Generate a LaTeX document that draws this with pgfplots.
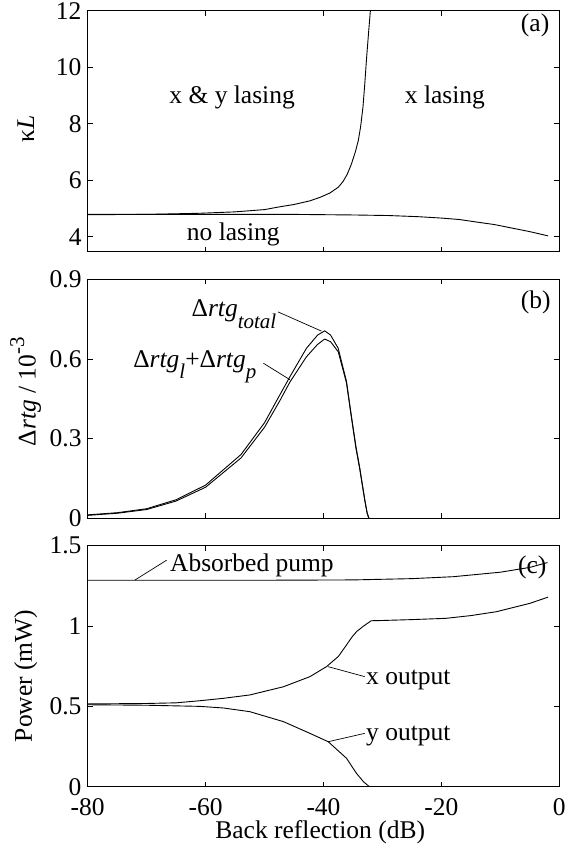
\documentclass[border=0pt]{standalone}
\usepackage{pgfplots}
\pgfplotsset{compat=1.18}
\usepackage{fontspec}
\setmainfont{Liberation Serif}
\newcommand{\subfont}{\fontsize{21}{24}\selectfont}
\begin{document}
\fontsize{25.5}{30}\selectfont
\begin{tikzpicture}[x=1pt,y=1pt]
\pgfplotsset{
  every axis/.append style={
    scale only axis, width=471.6pt, xmin=-80, xmax=0,
    xtick={-80,-60,-40,-20,0},
    major tick length=5pt, tick align=inside,
    axis line style={line width=1.1pt},
    every tick/.style={black, line width=0.8pt},
    /pgf/number format/assume math mode=true,
    yticklabel style={inner sep=0pt, xshift=-6pt},
    xticklabel style={inner sep=0pt, yshift=-12pt},
  },
  crv/.style={black, line width=0.9pt, mark=none},
  ann/.style={black, line width=0.7pt, mark=none},
}
% ---------------- (a)
\begin{axis}[at={(87.7pt,595.3pt)}, anchor=south west, height=241pt,
  ymin=3.47, ymax=12, ytick={4,6,8,10,12}, xticklabels={},
  ylabel={κ\textit{L}},
  every axis y label/.style={at={(axis description cs:-0.1315,0.509)}, rotate=90, anchor=center}]
\addplot[crv] coordinates {(-80,4.78) (-70,4.79) (-61,4.83) (-55,4.88) (-50,4.96) (-47.4,5.06) (-45,5.14) (-42.3,5.27) (-40.5,5.4) (-38.9,5.55) (-37.5,5.75) (-36.7,5.95) (-36,6.2) (-35.3,6.55) (-34.6,7.0) (-34.1,7.4) (-33.7,7.9) (-33.3,8.6) (-33.0,9.4) (-32.7,10.3) (-32.4,11.1) (-32.05,12)};
\addplot[crv] coordinates {(-80,4.79) (-60,4.79) (-45,4.79) (-35,4.77) (-29,4.75) (-24,4.71) (-20,4.66) (-17,4.61) (-14.7,4.54) (-11,4.43) (-7.9,4.3) (-5,4.18) (-1.9,4.03)};
\node[anchor=base] at (axis cs:-55.5,8.70) {x \& y lasing};
\node[anchor=base] at (axis cs:-19.4,8.70) {x lasing};
\node[anchor=base] at (axis cs:-55.3,3.86) {no lasing};
\node[anchor=base] at (axis cs:-4.1,11.26) {(a)};
\end{axis}
% ---------------- (b)
\begin{axis}[at={(87.7pt,328.7pt)}, anchor=south west, height=239pt,
  ymin=0, ymax=0.9, ytick={0,0.3,0.6,0.9}, xticklabels={},
  yticklabels={0,0.3,0.6,0.9},
  ylabel={Δ\textit{rtg} / 10\raisebox{0.45em}{\subfont -3}},
  every axis y label/.style={at={(axis description cs:-0.1315,0.53)}, rotate=90, anchor=center}]
\addplot[crv] coordinates {(-80,0.013) (-75,0.021) (-70,0.036) (-65,0.07) (-60,0.125) (-54,0.24) (-50,0.36) (-47.4,0.465) (-45.7,0.533) (-42.9,0.64) (-41,0.69) (-39.8,0.706) (-38.8,0.69) (-37.5,0.64) (-36.1,0.515) (-35.3,0.39) (-34.5,0.27) (-33.85,0.19) (-33.0,0.07) (-32.6,0.02) (-32.3,0)};
\addplot[crv] coordinates {(-80,0.011) (-75,0.019) (-70,0.033) (-65,0.065) (-60,0.117) (-54,0.227) (-50,0.343) (-47.4,0.443) (-45.7,0.513) (-42.9,0.608) (-41,0.655) (-39.8,0.675) (-38.8,0.665) (-37.5,0.627) (-36.1,0.51) (-35.3,0.385) (-34.5,0.265) (-33.85,0.185) (-33.0,0.068) (-32.6,0.02) (-32.3,0)};
\addplot[ann] coordinates {(-47.7,0.777) (-40.35,0.705)};
\addplot[ann] coordinates {(-50.2,0.584) (-45.7,0.522)};
\node[anchor=base west, inner sep=0pt] at (axis cs:-62.4,0.759) {Δ\textit{rtg}\raisebox{-0.45em}{\subfont\textit{total}}};
\node[anchor=base west, inner sep=0pt] at (axis cs:-72.3,0.568) {Δ\textit{rtg}\raisebox{-0.45em}{\subfont\textit{l}}+Δ\textit{rtg}\raisebox{-0.45em}{\subfont\textit{p}}};
\node[anchor=base] at (axis cs:-4.0,0.79) {(b)};
\end{axis}
% ---------------- (c)
\begin{axis}[at={(87.7pt,60.3pt)}, anchor=south west, height=241pt,
  ymin=0, ymax=1.5, ytick={0,0.5,1,1.5},
  yticklabels={0,0.5,1,1.5},
  xticklabels={-80,-60,-40,-20,0},
  ylabel={Power (mW)},
  every axis y label/.style={at={(axis description cs:-0.1315,0.46)}, rotate=90, anchor=center},
  xlabel={Back reflection (dB)},
  every axis x label/.style={at={(axis description cs:0.493,0)}, anchor=base, yshift=-51.5pt}]
\addplot[crv] coordinates {(-80,1.285) (-50,1.285) (-35,1.287) (-25,1.295) (-18,1.307) (-10,1.335) (-5,1.365) (-2,1.395)};
\addplot[crv] coordinates {(-80,0.515) (-70,0.518) (-65,0.522) (-61,0.535) (-57,0.55) (-52.5,0.571) (-46.8,0.622) (-42.3,0.685) (-39.5,0.747) (-37.5,0.81) (-36.1,0.882) (-35.2,0.93) (-34.4,0.965) (-33.2,1.0) (-31.9,1.033) (-30.5,1.034) (-25,1.04) (-19.2,1.048) (-15,1.065) (-10.7,1.089) (-5,1.141) (-1.9,1.18)};
\addplot[crv] coordinates {(-80,0.51) (-70,0.507) (-61,0.50) (-57,0.49) (-52.5,0.467) (-46.8,0.405) (-42.3,0.332) (-39.2,0.28) (-36.1,0.177) (-34.4,0.083) (-33.2,0.03) (-32.2,0)};
\addplot[ann] coordinates {(-72,1.286) (-66.6,1.41)};
\addplot[ann] coordinates {(-39.2,0.747) (-33.0,0.685)};
\addplot[ann] coordinates {(-39.2,0.28) (-33.0,0.332)};
\node[anchor=base west, inner sep=0pt] at (axis cs:-66.05,1.338) {Absorbed pump};
\node[anchor=base west, inner sep=0pt] at (axis cs:-32.8,0.633) {x output};
\node[anchor=base west, inner sep=0pt] at (axis cs:-32.8,0.29) {y output};
\node[anchor=base] at (axis cs:-4.6,1.328) {(c)};
\end{axis}
\pgfresetboundingbox
\path[use as bounding box] (0pt,0pt) rectangle (567pt,847pt);
\end{tikzpicture}
\end{document}
